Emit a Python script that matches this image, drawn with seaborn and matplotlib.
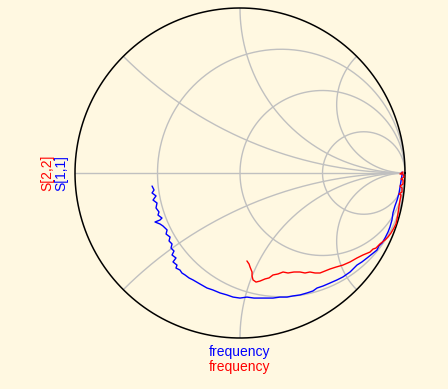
import numpy as np
import pandas as pd
import matplotlib
matplotlib.use("Agg")
import matplotlib.pyplot as plt
import seaborn as sns

# S11 reflection coefficient (real, imag)
s11_re = [-0.533, -0.521, -0.533, -0.509, -0.527, -0.503, -0.509, -0.491, -0.497, -0.473,
          -0.485, -0.515, -0.485, -0.467, -0.442, -0.448, -0.424, -0.430, -0.412, -0.418,
          -0.400, -0.412, -0.388, -0.406, -0.382, -0.388, -0.364, -0.352, -0.333, -0.309,
          -0.285, -0.242, -0.200, -0.164, -0.121, -0.079, -0.042, 0.000, 0.042, 0.085,
          0.121, 0.164, 0.200, 0.242, 0.285, 0.321, 0.364, 0.406, 0.442, 0.467,
          0.503, 0.545, 0.588, 0.624, 0.667, 0.709, 0.739, 0.770, 0.800, 0.830,
          0.842, 0.861, 0.879, 0.897, 0.909, 0.921, 0.927, 0.939, 0.952, 0.964,
          0.970, 0.976, 0.982, 0.982]
s11_im = [-0.079, -0.103, -0.121, -0.139, -0.164, -0.182, -0.212, -0.236, -0.255, -0.273,
          -0.285, -0.297, -0.309, -0.321, -0.345, -0.370, -0.388, -0.412, -0.430, -0.455,
          -0.473, -0.497, -0.515, -0.539, -0.558, -0.576, -0.588, -0.606, -0.618, -0.636,
          -0.648, -0.673, -0.697, -0.709, -0.727, -0.739, -0.752, -0.758, -0.752, -0.758,
          -0.758, -0.758, -0.758, -0.752, -0.752, -0.745, -0.739, -0.727, -0.715, -0.697,
          -0.685, -0.667, -0.648, -0.630, -0.600, -0.558, -0.539, -0.515, -0.491, -0.467,
          -0.442, -0.424, -0.394, -0.358, -0.327, -0.285, -0.242, -0.200, -0.164, -0.121,
          -0.085, -0.048, -0.012, 0.006]

# S22 reflection coefficient (real, imag)
s22_re = [0.042, 0.055, 0.061, 0.073, 0.073, 0.079, 0.097, 0.121, 0.152, 0.176,
          0.200, 0.230, 0.261, 0.291, 0.327, 0.364, 0.394, 0.424, 0.455, 0.485,
          0.515, 0.545, 0.582, 0.624, 0.667, 0.709, 0.745, 0.788, 0.806, 0.824,
          0.848, 0.879, 0.897, 0.915, 0.933, 0.945, 0.952, 0.958, 0.964, 0.970,
          0.976, 0.964, 0.982, 0.982, 0.970, 0.988, 0.988, 0.976, 0.994, 0.988,
          0.970, 0.988]
s22_im = [-0.533, -0.552, -0.570, -0.600, -0.624, -0.648, -0.661, -0.655, -0.642, -0.636,
          -0.618, -0.612, -0.600, -0.606, -0.600, -0.600, -0.606, -0.600, -0.606, -0.606,
          -0.594, -0.582, -0.570, -0.558, -0.539, -0.515, -0.497, -0.479, -0.461, -0.455,
          -0.430, -0.406, -0.388, -0.364, -0.333, -0.309, -0.279, -0.242, -0.200, -0.164,
          -0.133, -0.127, -0.115, -0.091, -0.079, -0.067, -0.042, -0.036, -0.024, -0.006,
          -0.006, 0.006]

y_labels = ["S[2,2]", "S[1,1]"]
x_labels = ["frequency", "frequency"]
label_colors = ["#ff0000", "#0000ff"]

bg = "#FFF8E1"
grid_c = "#C0C0C0"

sns.set_theme(style="white")
plt.rcParams['font.family'] = ['Liberation Sans', 'DejaVu Sans']

fig = plt.figure(figsize=(4.48, 3.89), dpi=100, facecolor=bg)
ax = fig.add_axes([75 / 448, (389 - 338) / 389, 330 / 448, 330 / 389])
ax.set_facecolor(bg)

# grid: constant resistance circles
th = np.linspace(0, 2 * np.pi, 400)
for r in [1 / 3, 1.0, 3.0]:
    c = r / (1 + r)
    rad = 1 / (1 + r)
    ax.plot(c + rad * np.cos(th), rad * np.sin(th), color=grid_c, lw=1.0, zorder=1)
# constant reactance arcs
t = np.concatenate([np.linspace(0, 5, 300), np.logspace(0.7, 5, 300)])
for xv in [np.tan(np.pi / 8), 1.0, np.tan(3 * np.pi / 8)]:
    for s in (1, -1):
        z = t + 1j * s * xv
        g = (z - 1) / (z + 1)
        ax.plot(g.real, g.imag, color=grid_c, lw=1.0, zorder=1)
ax.plot([-1, 1], [0, 0], color=grid_c, lw=1.0, zorder=1)

# outer circle
ax.plot(np.cos(th), np.sin(th), color="black", lw=1.1, zorder=3, clip_on=False)

df11 = pd.DataFrame({"re": s11_re, "im": s11_im})
df22 = pd.DataFrame({"re": s22_re, "im": s22_im})
sns.lineplot(data=df11, x="re", y="im", sort=False, estimator=None, color="#0000ff",
             lw=1.0, ax=ax, zorder=4)
sns.lineplot(data=df22, x="re", y="im", sort=False, estimator=None, color="#ff0000",
             lw=1.0, ax=ax, zorder=5)
ax.set_xlim(-1, 1)
ax.set_ylim(-1, 1)
ax.set_aspect("equal")
ax.axis("off")

# axis labels
fig.text(47 / 448, 1 - 173 / 389, y_labels[0], color=label_colors[0], rotation=90,
         ha="center", va="center", fontsize=10)
fig.text(61 / 448, 1 - 173 / 389, y_labels[1], color=label_colors[1], rotation=90,
         ha="center", va="center", fontsize=10)
fig.text(240 / 448, 1 - 352 / 389, x_labels[0], color=label_colors[1],
         ha="center", va="center", fontsize=10)
fig.text(240 / 448, 1 - 367 / 389, x_labels[1], color=label_colors[0],
         ha="center", va="center", fontsize=10)

fig.savefig("out.png", dpi=100, facecolor=bg)
